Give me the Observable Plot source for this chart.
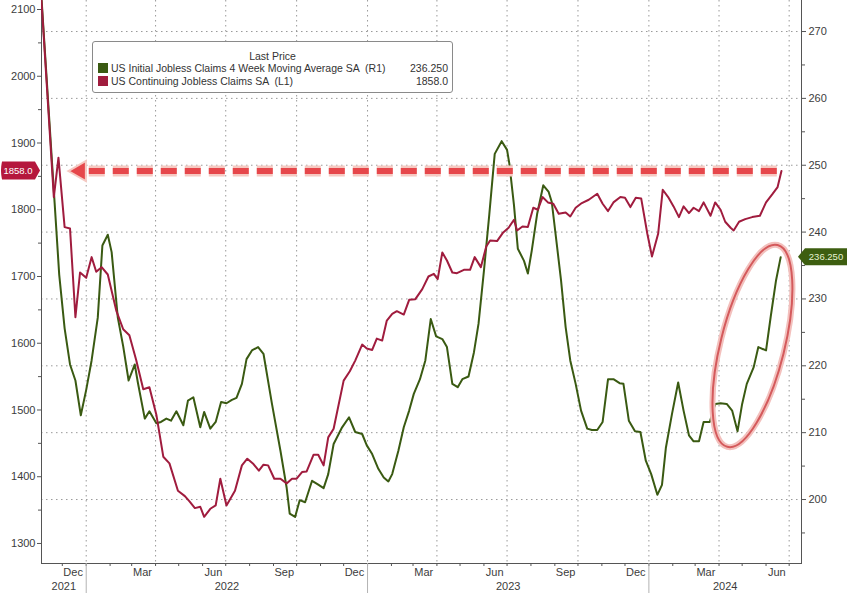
<!DOCTYPE html>
<html>
<head>
<meta charset="utf-8">
<script src="https://cdn.jsdelivr.net/npm/d3@7"></script>
<script src="https://cdn.jsdelivr.net/npm/@observablehq/plot@0.6"></script>
<style>
  body { margin: 0; background: #fff; }
  #wrap { position: relative; width: 848px; height: 593px; overflow: hidden; font-family: "Liberation Sans", Arial, sans-serif; }
  #wrap svg { position: absolute; left: 0; top: 0; }
  .legend { position: absolute; left: 92px; top: 41px; width: 361px; height: 52px; box-sizing: border-box;
            border: 1px solid #8a8a8a; border-radius: 3px; background: #fff; font-size: 10.5px; color: #333; }
  .legend .lp { position: absolute; top: 8px; left: 0; width: 100%; text-align: center; line-height: 12px; }
  .legend .row { position: absolute; left: 0; width: 100%; height: 12px; line-height: 12px; }
  .legend .sw { position: absolute; left: 5px; top: 1px; width: 10px; height: 10px; }
  .legend .lab { position: absolute; left: 18px; top: 0; white-space: pre; }
  .legend .val { position: absolute; right: 4px; top: 0; }
</style>
</head>
<body>
<div id="wrap"></div>
<script>
// ---------------- data ----------------
const seriesNames = ["US Initial Jobless Claims 4 Week Moving Average SA  (R1)", "US Continuing Jobless Claims SA  (L1)"];
const seriesColors = ["#3a5a12", "#a01c3e"];

// US Continuing Jobless Claims SA (thousands) – left axis
const contDates = ["2021-11-04","2021-11-20","2021-11-26","2021-12-04","2021-12-11","2021-12-18","2021-12-24","2022-01-01","2022-01-08","2022-01-14",
"2022-01-21","2022-01-29","2022-02-09","2022-02-18","2022-02-26","2022-03-07","2022-03-16","2022-03-24","2022-04-02","2022-04-11",
"2022-04-19","2022-04-30","2022-05-09","2022-05-15","2022-05-22","2022-05-29","2022-06-03","2022-06-11","2022-06-18","2022-06-24",
"2022-07-02","2022-07-13","2022-07-22","2022-07-29","2022-08-06","2022-08-13","2022-08-19","2022-08-25","2022-09-02","2022-09-10",
"2022-09-18","2022-09-25","2022-10-01","2022-10-08","2022-10-14","2022-10-23","2022-10-29","2022-11-05","2022-11-11","2022-11-18",
"2022-12-01","2022-12-09","2022-12-16","2022-12-25","2022-12-31","2023-01-07","2023-01-13","2023-01-20","2023-01-26","2023-02-02",
"2023-02-08","2023-02-17","2023-02-24","2023-03-04","2023-03-13","2023-03-21","2023-03-28","2023-04-02","2023-04-08","2023-04-14",
"2023-04-21","2023-04-27","2023-05-06","2023-05-14","2023-05-20","2023-05-28","2023-06-04","2023-06-09","2023-06-18","2023-06-26",
"2023-07-03","2023-07-10","2023-07-14","2023-07-21","2023-07-28","2023-08-04","2023-08-10","2023-08-16","2023-08-23","2023-08-30",
"2023-09-06","2023-09-15","2023-09-21","2023-09-28","2023-10-06","2023-10-15","2023-10-26","2023-11-02","2023-11-09","2023-11-16",
"2023-11-25","2023-12-01","2023-12-08","2023-12-15","2023-12-22","2023-12-30","2024-01-05","2024-01-13","2024-01-19","2024-01-26",
"2024-02-02","2024-02-09","2024-02-15","2024-02-22","2024-02-28","2024-03-06","2024-03-12","2024-03-21","2024-03-27","2024-04-03",
"2024-04-09","2024-04-16","2024-04-20","2024-04-27","2024-05-05","2024-05-14","2024-05-24","2024-06-01","2024-06-09","2024-06-16","2024-06-21"];
const contValues = [2113,1819,1878,1774,1772,1639,1706,1698,1729,1707,
1714,1703,1649,1621,1612,1574,1531,1534,1493,1430,
1420,1379,1371,1363,1353,1355,1340,1352,1357,1397,
1357,1379,1417,1427,1419,1409,1418,1417,1397,1397,
1390,1397,1397,1407,1408,1433,1433,1417,1459,1472,
1544,1558,1574,1598,1592,1590,1607,1604,1634,1644,
1648,1643,1665,1666,1681,1700,1704,1696,1736,1724,
1706,1705,1710,1710,1729,1714,1745,1754,1753,1766,
1773,1785,1769,1775,1774,1803,1800,1819,1811,1809,
1794,1796,1790,1803,1810,1815,1824,1809,1798,1811,
1819,1818,1804,1818,1817,1764,1730,1764,1830,1819,
1805,1789,1805,1795,1803,1798,1811,1791,1811,1800,
1782,1773,1769,1782,1786,1789,1791,1811,1823,1834,1858.0];

// US Initial Jobless Claims 4 Week Moving Average SA (thousands) – right axis
const avgDates = ["2021-11-04","2021-11-21","2021-11-27","2021-12-04","2021-12-11","2021-12-18","2021-12-25","2022-01-01","2022-01-08","2022-01-16",
"2022-01-22","2022-01-29","2022-02-03","2022-02-11","2022-02-18","2022-02-25","2022-03-05","2022-03-09","2022-03-18","2022-03-24",
"2022-04-02","2022-04-08","2022-04-15","2022-04-21","2022-04-28","2022-05-07","2022-05-13","2022-05-20","2022-05-29","2022-06-03",
"2022-06-11","2022-06-18","2022-06-25","2022-07-02","2022-07-09","2022-07-15","2022-07-22","2022-07-28","2022-08-04","2022-08-12",
"2022-08-19","2022-08-30","2022-09-10","2022-09-18","2022-09-22","2022-09-29","2022-10-05","2022-10-12","2022-10-21","2022-10-28",
"2022-11-05","2022-11-11","2022-11-18","2022-11-29","2022-12-08","2022-12-16","2022-12-25","2022-12-31","2023-01-07","2023-01-15",
"2023-01-22","2023-01-28","2023-02-02","2023-02-10","2023-02-17","2023-02-24","2023-03-02","2023-03-10","2023-03-17","2023-03-24",
"2023-03-31","2023-04-08","2023-04-14","2023-04-21","2023-04-28","2023-05-04","2023-05-12","2023-05-19","2023-05-25","2023-06-01",
"2023-06-08","2023-06-15","2023-06-24","2023-07-01","2023-07-04","2023-07-10","2023-07-15","2023-07-23","2023-07-28","2023-08-02",
"2023-08-09","2023-08-17","2023-08-24","2023-08-28","2023-09-04","2023-09-09","2023-09-15","2023-09-21","2023-09-28","2023-10-05",
"2023-10-13","2023-10-19","2023-10-26","2023-11-02","2023-11-09","2023-11-16","2023-11-24","2023-11-29","2023-12-06","2023-12-14",
"2023-12-21","2023-12-28","2024-01-04","2024-01-12","2024-01-18","2024-01-23","2024-01-31","2024-02-08","2024-02-15","2024-02-22",
"2024-02-28","2024-03-06","2024-03-12","2024-03-20","2024-03-27","2024-04-03","2024-04-11","2024-04-18","2024-04-25","2024-05-01",
"2024-05-07","2024-05-16","2024-05-22","2024-06-01","2024-06-07","2024-06-14","2024-06-20"];
const avgValues = [275,244.4,233.6,225.6,220.2,217.8,212.6,216.4,220.8,227.2,
238,239.6,237,227.2,222.9,217.8,220.2,217.5,212.1,213.2,
211.4,211.6,212.1,211.8,213.2,211.1,214.8,215.3,210.8,213.1,
210.6,211.6,214.6,214.4,214.9,215.2,217.3,221,222.3,222.8,
221.8,214.3,207.3,201.8,197.9,197.4,199.9,199.6,202.8,202.3,
201.7,203.8,208.3,210.8,212.3,210.1,209.8,208.1,206.8,204.6,
203.3,202.7,203.8,207.3,210.8,213.3,215.8,218,220.8,227,
224.4,224,222.8,217.3,216.8,218,218.4,222,226.3,234.2,
242.7,251.7,253.6,252.3,250.2,244,237.5,235.7,233.8,237.2,
242.7,247,246,244.5,237.7,232.8,225.8,220.8,217.3,213.3,
210.6,210.4,210.4,211.6,218,218,217.4,217.3,211.8,210.2,
210.1,205.8,203.8,200.7,202.2,207.7,212.8,217.5,213.3,209.6,
208.7,208.7,211.6,211.6,214.3,214.4,214.3,213.3,210.2,214.3,
217.3,219.8,222.8,222.3,227.3,232.8,236.25];

// axes
const xDomain = [new Date("2021-11-04"), new Date("2024-07-17")];
const leftDomain = [1270, 2113.5];
const rightDomain = [190.43, 274.64];
const leftTicks = [1300,1400,1500,1600,1700,1800,1900,2000,2100];
const rightTicks = [200,210,220,230,240,250,260,270];
const yearList = [2021, 2022, 2023, 2024];

// annotations
const arrowStart = new Date("2022-01-05");
const arrowHead = new Date("2021-12-24");
const ellipseCenter = { date: new Date("2024-05-15"), value: 222.9 };

// ---------------- build ----------------
const cont = contDates.map((d, i) => ({ date: new Date(d), value: contValues[i] }));
const avg = avgDates.map((d, i) => ({ date: new Date(d), value: avgValues[i] }));
const lastCont = cont[cont.length - 1];
const lastAvg = avg[avg.length - 1];

const leftMinor = d3.range(leftTicks[0] + 50, leftTicks[leftTicks.length - 1], 100);
const rightMinor = d3.range(rightTicks[0] - 5, rightTicks[rightTicks.length - 1], 10).filter(v => v > rightDomain[0]);
const months = d3.utcMonth.range(xDomain[0], xDomain[1]);
const quarterStarts = months.filter(d => d.getUTCMonth() % 3 === 0);
const labelMonths = months.filter(d => d.getUTCMonth() % 3 === 2).map(d => d3.utcDay.offset(d, 14));
const yearStarts = yearList.slice(1).map(y => new Date(Date.UTC(y, 0, 1)));
const yearLabels = yearList.map(y => {
  const a = Math.max(Date.UTC(y, 0, 1), +xDomain[0]);
  const b = Math.min(Date.UTC(y + 1, 0, 1), +xDomain[1]);
  return { year: String(y), mid: new Date((a + b) / 2) };
});

const FONT = '"Liberation Sans", Arial, sans-serif';
const W = 848, H = 593;
const frame = { width: W, height: H, marginLeft: 41, marginRight: 47, marginTop: 0, marginBottom: 30 };
const style = { background: "transparent", fontFamily: FONT, fontSize: "11px", color: "#3c3c3c", overflow: "visible" };
const gridStyle = { stroke: "#8e8e8e", strokeOpacity: 0.9, strokeDasharray: "1.5,3.5" };

// right-side value tag (green)
function rightTag(index, { y }, values, { width, marginRight }) {
  const cy = y(lastAvg.value), x0 = width - marginRight;
  const g = d3.create("svg:g");
  g.append("path").attr("d", `M${x0 - 3},${cy}L${x0 + 4},${cy - 8.5}H${width - 1}V${cy + 8.5}H${x0 + 4}Z`).attr("fill", "#3d5e10");
  g.append("text").attr("x", x0 + 25).attr("y", cy).attr("dy", "0.35em").attr("text-anchor", "middle")
    .attr("fill", "#e6f3d2").attr("font-size", 9.5).text(d3.format(".3f")(lastAvg.value));
  return g.node();
}
// left-side value tag (red)
function leftTag(index, { y }, values, { marginLeft }) {
  const cy = y(lastCont.value);
  const g = d3.create("svg:g");
  g.append("path").attr("d", `M2,${cy - 9}H${marginLeft - 6}L${marginLeft - 1},${cy}L${marginLeft - 6},${cy + 9}H2Q0,${cy} 2,${cy - 9}Z`).attr("fill", "#b5173d");
  g.append("text").attr("x", (marginLeft - 5) / 2).attr("y", cy).attr("dy", "0.35em").attr("text-anchor", "middle")
    .attr("fill", "#fff").attr("font-size", 9.5).text(d3.format(".1f")(lastCont.value));
  return g.node();
}
// highlight ellipse
function ellipse(index, { x, y }) {
  const cx = x(ellipseCenter.date), cy = y(ellipseCenter.value);
  const g = d3.create("svg:g").attr("transform", `rotate(14 ${cx} ${cy})`).attr("fill", "none");
  g.append("ellipse").attr("cx", cx).attr("cy", cy).attr("rx", 32).attr("ry", 104).attr("stroke", "#f3c0bd").attr("stroke-width", 6);
  g.append("ellipse").attr("cx", cx).attr("cy", cy).attr("rx", 32).attr("ry", 104).attr("stroke", "#d45a5c").attr("stroke-width", 2);
  return g.node();
}

const plotA = Plot.plot({
  ...frame, style,
  x: { type: "utc", domain: xDomain },
  y: { domain: rightDomain },
  marks: [
    Plot.gridX(quarterStarts, gridStyle),
    Plot.gridY(rightTicks, gridStyle),
    Plot.line(avg, { x: "date", y: "value", stroke: seriesColors[0], strokeWidth: 2, clip: true }),
    ellipse,
    Plot.frame({ anchor: "left", stroke: "#555" }),
    Plot.frame({ anchor: "right", stroke: "#555" }),
    Plot.frame({ anchor: "bottom", stroke: "#555" }),
    Plot.axisY(rightTicks, { anchor: "right", tickSize: 4, tickPadding: 3, label: null, tickFormat: d => String(d), stroke: "#555" }),
    Plot.axisY(rightMinor, { anchor: "right", tickSize: 3, label: null, tickFormat: () => "", stroke: "#555" }),
    Plot.axisX(months, { tickSize: 3, label: null, tickFormat: () => "", stroke: "#555" }),
    Plot.axisX(labelMonths, { tickSize: 0, tickPadding: 5, label: null, tickFormat: d3.utcFormat("%b") }),
    Plot.axisX(yearStarts, { tickSize: 30, label: null, tickFormat: () => "", stroke: "#b3b3b3" }),
    Plot.text(yearLabels, { x: "mid", text: "year", frameAnchor: "bottom", dy: 19, lineAnchor: "top", fill: "#3c3c3c" }),
    rightTag
  ]
});

const plotB = Plot.plot({
  ...frame, style,
  x: { type: "utc", domain: xDomain, axis: null },
  y: { domain: leftDomain },
  marks: [
    Plot.ruleY([{ y: lastCont.value, x1: arrowStart, x2: lastCont.date }], { y: "y", x1: "x1", x2: "x2", stroke: "#f6c9c2", strokeWidth: 11, strokeDasharray: "16,8" }),
    Plot.ruleY([{ y: lastCont.value, x1: arrowStart, x2: lastCont.date }], { y: "y", x1: "x1", x2: "x2", stroke: "#e6474b", strokeWidth: 6, strokeDasharray: "16,8" }),
    Plot.dot([{ x: arrowHead, y: lastCont.value }], { x: "x", y: "y", symbol: "triangle", r: 7.5, rotate: -90, fill: "#e6474b", stroke: "#f6c9c2", strokeWidth: 2 }),
    Plot.line(cont, { x: "date", y: "value", stroke: seriesColors[1], strokeWidth: 2, clip: true }),
    Plot.axisY(leftTicks, { anchor: "left", tickSize: 4, tickPadding: 2, label: null, tickFormat: d => String(d), stroke: "#555" }),
    Plot.axisY(leftMinor, { anchor: "left", tickSize: 3, label: null, tickFormat: () => "", stroke: "#555" }),
    leftTag
  ]
});

const wrap = document.getElementById("wrap");
wrap.appendChild(plotA);
wrap.appendChild(plotB);

// legend
const lastVals = [d3.format(".3f")(lastAvg.value), d3.format(".1f")(lastCont.value)];
const lg = d3.select(wrap).append("div").attr("class", "legend");
lg.append("div").attr("class", "lp").text("Last Price");
seriesNames.forEach((name, i) => {
  const row = lg.append("div").attr("class", "row").style("top", (20 + i * 13) + "px");
  row.append("span").attr("class", "sw").style("background", seriesColors[i]);
  row.append("span").attr("class", "lab").text(name);
  row.append("span").attr("class", "val").text(lastVals[i]);
});
</script>
</body>
</html>
